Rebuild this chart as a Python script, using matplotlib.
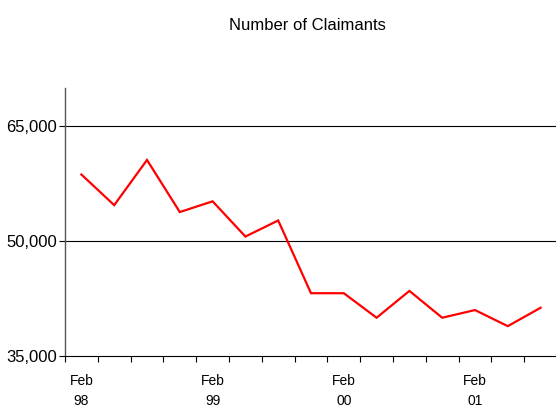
import matplotlib
matplotlib.use("Agg")
import matplotlib.pyplot as plt
import numpy as np
from matplotlib.ticker import FuncFormatter

plt.rcParams['font.family'] = ['Liberation Sans Narrow', 'Liberation Sans', 'DejaVu Sans']

quarters = ["Feb\n98", "May\n98", "Aug\n98", "Nov\n98",
            "Feb\n99", "May\n99", "Aug\n99", "Nov\n99",
            "Feb\n00", "May\n00", "Aug\n00", "Nov\n00",
            "Feb\n01", "May\n01", "Aug\n01"]
claimants = [58700, 54700, 60600, 53800, 55200, 50600, 52700, 43200,
             43200, 40000, 43500, 40000, 41000, 38900, 41300]
yticks = [35000, 50000, 65000]

fig = plt.figure(figsize=(5.56, 4.08), dpi=100)
ax = fig.add_axes([65/556, 52/408, 492/556, 268/408])

x = np.arange(len(claimants))
ax.plot(x, claimants, color='#ff0000', lw=1.6, solid_joinstyle='miter')

ax.set_xlim(-0.5, len(claimants) - 0.5)
ax.set_ylim(35000, 70000)

ax.set_yticks(yticks)
ax.yaxis.set_major_formatter(FuncFormatter(lambda v, p: f"{int(v):,}"))
for y in yticks[1:]:
    ax.axhline(y, color='black', lw=0.8, zorder=0)

label_idx = [i for i, q in enumerate(quarters) if q.startswith("Feb")]
ax.set_xticks(label_idx)
ax.set_xticklabels([quarters[i] for i in label_idx], linespacing=1.5)
ax.set_xticks(np.arange(-0.5, len(claimants), 1.0), minor=True)
ax.tick_params(axis='x', which='major', length=0, pad=13, labelsize=10)
ax.tick_params(axis='x', which='minor', length=4, width=0.8, direction='out', color='black')
ax.tick_params(axis='y', length=4, width=0.8, direction='out', labelsize=12, pad=2)

for s in ['top', 'right']:
    ax.spines[s].set_visible(False)
ax.spines['left'].set_color('#555555')
ax.spines['left'].set_linewidth(1.0)
ax.spines['bottom'].set_color('black')
ax.spines['bottom'].set_linewidth(0.8)

fig.text(307/556, 1 - 25/408, "Number of Claimants", ha='center', va='center', fontsize=12)

fig.savefig("out.png", dpi=100)
